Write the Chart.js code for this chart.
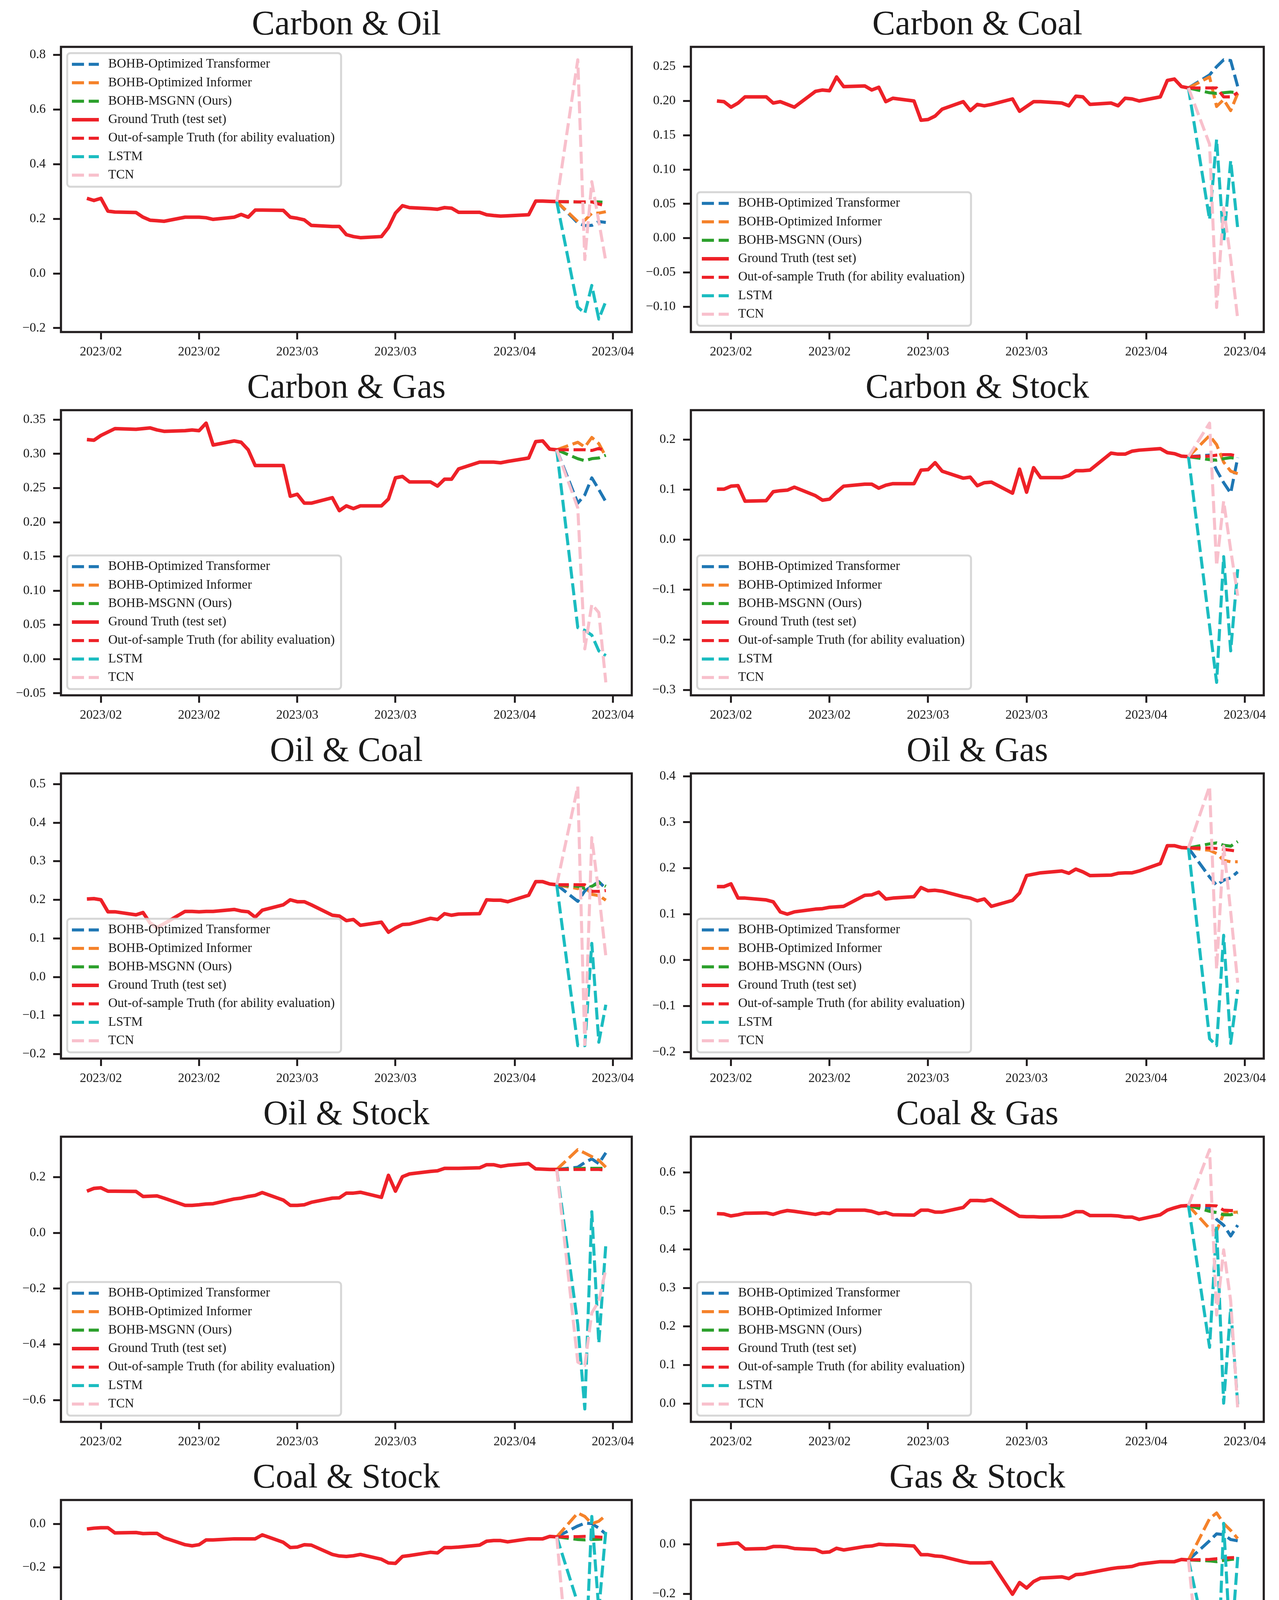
<!DOCTYPE html>
<html>
<head>
<meta charset="utf-8">
<title>Pairwise forecasts</title>
<script src="https://cdn.jsdelivr.net/npm/chart.js@4.4.0/dist/chart.umd.min.js"></script>
<style>
  body { margin: 0; background: #fff; }
  #page { position: relative; width: 3273px; height: 4660px; background: #fff; }
  #page canvas { position: absolute; }
</style>
</head>
<body>
<div id="page"></div>
<script>
// x values are days counted from 2023-02-01 (trading days only)
const truthDays = [-2, -1, 0, 1, 2, 5, 6, 7, 8, 9, 12, 13, 14, 15, 16, 19, 20, 21, 22, 23,
  26, 27, 28, 29, 30, 33, 34, 35, 36, 37, 40, 41, 42, 43, 44, 47, 48, 49, 50, 51,
  54, 55, 56, 57, 58, 61, 62, 63, 64, 65];
const forecastDays = [65, 68, 69, 70, 71, 72];
const xTickDays = [0, 14, 28, 42, 59, 73];
const xTickLabels = ['2023/02', '2023/02', '2023/03', '2023/03', '2023/04', '2023/04'];

const panelTitles = ['Carbon & Oil', 'Carbon & Coal', 'Carbon & Gas', 'Carbon & Stock', 'Oil & Coal',
  'Oil & Gas', 'Oil & Stock', 'Coal & Gas', 'Coal & Stock', 'Gas & Stock'];
const seriesLabels = ['BOHB-Optimized Transformer', 'BOHB-Optimized Informer', 'BOHB-MSGNN (Ours)',
  'Ground Truth (test set)', 'Out-of-sample Truth (for ability evaluation)', 'LSTM', 'TCN'];

// ground truth (test set), one row per panel
const testTruth = [
  [0.275, 0.267, 0.275, 0.228, 0.225, 0.223, 0.206, 0.195, 0.193, 0.191, 0.206, 0.206, 0.206, 0.204, 0.198, 0.206, 0.216, 0.206, 0.232, 0.232,
   0.231, 0.206, 0.202, 0.196, 0.176, 0.172, 0.172, 0.142, 0.135, 0.131, 0.135, 0.168, 0.221, 0.248, 0.241, 0.237, 0.235, 0.241, 0.239, 0.224,
   0.224, 0.215, 0.212, 0.210, 0.211, 0.215, 0.265, 0.265, 0.264, 0.263],
  [0.200, 0.199, 0.191, 0.197, 0.206, 0.206, 0.197, 0.199, 0.195, 0.191, 0.214, 0.216, 0.215, 0.235, 0.221, 0.222, 0.216, 0.220, 0.199, 0.204,
   0.200, 0.172, 0.173, 0.178, 0.188, 0.199, 0.186, 0.195, 0.193, 0.195, 0.203, 0.185, 0.192, 0.199, 0.199, 0.197, 0.193, 0.207, 0.206, 0.195,
   0.197, 0.193, 0.204, 0.203, 0.200, 0.206, 0.230, 0.232, 0.221, 0.219],
  [0.321, 0.320, 0.327, 0.332, 0.337, 0.336, 0.337, 0.338, 0.335, 0.333, 0.334, 0.335, 0.334, 0.345, 0.313, 0.319, 0.317, 0.306, 0.283, 0.283,
   0.283, 0.238, 0.241, 0.228, 0.228, 0.236, 0.217, 0.224, 0.220, 0.224, 0.224, 0.234, 0.265, 0.267, 0.259, 0.259, 0.253, 0.263, 0.263, 0.278,
   0.288, 0.288, 0.288, 0.287, 0.289, 0.294, 0.318, 0.319, 0.307, 0.306],
  [0.101, 0.101, 0.107, 0.108, 0.077, 0.078, 0.096, 0.098, 0.099, 0.105, 0.088, 0.079, 0.081, 0.095, 0.107, 0.111, 0.111, 0.103, 0.109, 0.112,
   0.112, 0.139, 0.140, 0.154, 0.137, 0.123, 0.125, 0.108, 0.114, 0.115, 0.093, 0.141, 0.095, 0.144, 0.124, 0.124, 0.128, 0.138, 0.138, 0.139,
   0.173, 0.171, 0.171, 0.177, 0.179, 0.182, 0.174, 0.172, 0.167, 0.166],
  [0.202, 0.203, 0.200, 0.169, 0.169, 0.161, 0.167, 0.140, 0.128, 0.138, 0.170, 0.170, 0.169, 0.170, 0.170, 0.175, 0.171, 0.169, 0.155, 0.173,
   0.187, 0.200, 0.195, 0.195, 0.187, 0.160, 0.158, 0.146, 0.149, 0.134, 0.142, 0.116, 0.127, 0.136, 0.137, 0.152, 0.149, 0.164, 0.160, 0.163,
   0.164, 0.200, 0.199, 0.199, 0.195, 0.212, 0.247, 0.247, 0.241, 0.239],
  [0.160, 0.160, 0.166, 0.135, 0.135, 0.131, 0.127, 0.105, 0.100, 0.105, 0.111, 0.112, 0.115, 0.116, 0.117, 0.141, 0.142, 0.148, 0.133, 0.135,
   0.138, 0.158, 0.151, 0.152, 0.150, 0.138, 0.135, 0.129, 0.133, 0.117, 0.130, 0.146, 0.184, 0.187, 0.190, 0.194, 0.189, 0.198, 0.192, 0.184,
   0.185, 0.189, 0.190, 0.190, 0.194, 0.210, 0.249, 0.249, 0.245, 0.244],
  [0.150, 0.160, 0.162, 0.150, 0.150, 0.149, 0.131, 0.132, 0.133, 0.125, 0.099, 0.099, 0.101, 0.104, 0.105, 0.122, 0.125, 0.131, 0.135, 0.145,
   0.118, 0.099, 0.099, 0.101, 0.110, 0.125, 0.126, 0.143, 0.143, 0.146, 0.128, 0.207, 0.150, 0.202, 0.212, 0.221, 0.223, 0.232, 0.232, 0.232,
   0.234, 0.245, 0.245, 0.239, 0.243, 0.249, 0.230, 0.229, 0.228, 0.228],
  [0.493, 0.492, 0.487, 0.490, 0.494, 0.495, 0.491, 0.497, 0.501, 0.499, 0.491, 0.495, 0.493, 0.502, 0.502, 0.502, 0.499, 0.493, 0.496, 0.490,
   0.489, 0.502, 0.502, 0.497, 0.497, 0.509, 0.527, 0.527, 0.526, 0.530, 0.497, 0.486, 0.485, 0.485, 0.484, 0.485, 0.490, 0.498, 0.498, 0.488,
   0.488, 0.487, 0.484, 0.484, 0.478, 0.490, 0.502, 0.508, 0.513, 0.514],
  [-0.023, -0.019, -0.017, -0.017, -0.041, -0.039, -0.044, -0.043, -0.043, -0.063, -0.095, -0.100, -0.095, -0.073, -0.073, -0.068, -0.068, -0.068, -0.068, -0.050,
   -0.084, -0.108, -0.106, -0.095, -0.097, -0.140, -0.147, -0.149, -0.146, -0.140, -0.162, -0.179, -0.181, -0.149, -0.145, -0.130, -0.133, -0.108, -0.108, -0.106,
   -0.097, -0.079, -0.076, -0.076, -0.082, -0.068, -0.068, -0.068, -0.057, -0.059],
  [-0.002, 0.000, 0.003, 0.005, -0.019, -0.017, -0.009, -0.009, -0.011, -0.017, -0.021, -0.033, -0.031, -0.016, -0.023, -0.009, -0.007, 0.000, -0.002, -0.002,
   -0.007, -0.042, -0.042, -0.047, -0.049, -0.070, -0.075, -0.075, -0.075, -0.073, -0.201, -0.154, -0.176, -0.150, -0.136, -0.131, -0.138, -0.122, -0.120, -0.114,
   -0.098, -0.094, -0.092, -0.089, -0.080, -0.070, -0.070, -0.070, -0.061, -0.063]
];

// forecast window, one row per panel (first value = last test point)
const transformerPred = [
  [0.263, 0.185, 0.175, 0.176, 0.190, 0.187],
  [0.219, 0.238, 0.250, 0.260, 0.259, 0.221],
  [0.306, 0.228, 0.240, 0.265, 0.248, 0.230],
  [0.166, 0.169, 0.139, 0.114, 0.093, 0.164],
  [0.239, 0.196, 0.223, 0.235, 0.247, 0.229],
  [0.244, 0.181, 0.163, 0.174, 0.179, 0.192],
  [0.228, 0.236, 0.253, 0.266, 0.249, 0.288],
  [0.514, 0.508, 0.478, 0.463, 0.435, 0.463],
  [-0.059, -0.009, 0.004, 0.002, -0.019, -0.046],
  [-0.063, 0.014, 0.042, 0.039, 0.019, 0.014]
];
const informerPred = [
  [0.263, 0.190, 0.195, 0.220, 0.221, 0.226],
  [0.219, 0.235, 0.192, 0.202, 0.186, 0.211],
  [0.306, 0.317, 0.310, 0.324, 0.315, 0.296],
  [0.166, 0.208, 0.190, 0.155, 0.137, 0.132],
  [0.239, 0.229, 0.235, 0.214, 0.211, 0.199],
  [0.244, 0.239, 0.232, 0.217, 0.214, 0.214],
  [0.228, 0.299, 0.287, 0.274, 0.261, 0.236],
  [0.514, 0.454, 0.448, 0.493, 0.496, 0.497],
  [-0.059, 0.051, 0.035, 0.002, 0.013, 0.040],
  [-0.063, 0.103, 0.126, 0.084, 0.056, 0.023]
];
const msgnnPred = [
  [0.263, 0.262, 0.261, 0.262, 0.262, 0.260],
  [0.219, 0.212, 0.211, 0.212, 0.213, 0.212],
  [0.306, 0.293, 0.290, 0.293, 0.294, 0.298],
  [0.166, 0.160, 0.159, 0.162, 0.164, 0.162],
  [0.239, 0.235, 0.229, 0.235, 0.244, 0.235],
  [0.244, 0.253, 0.255, 0.250, 0.248, 0.258],
  [0.228, 0.231, 0.232, 0.232, 0.232, 0.232],
  [0.514, 0.499, 0.496, 0.490, 0.490, 0.495],
  [-0.059, -0.071, -0.073, -0.071, -0.070, -0.068],
  [-0.063, -0.067, -0.070, -0.065, -0.061, -0.058]
];
const outTruth = [
  [0.263, 0.262, 0.262, 0.262, 0.254, 0.248],
  [0.219, 0.219, 0.219, 0.206, 0.206, 0.212],
  [0.306, 0.306, 0.306, 0.305, 0.308, 0.304],
  [0.166, 0.167, 0.169, 0.170, 0.170, 0.167],
  [0.239, 0.239, 0.239, 0.222, 0.222, 0.224],
  [0.244, 0.244, 0.243, 0.241, 0.239, 0.237],
  [0.228, 0.228, 0.228, 0.228, 0.228, 0.226],
  [0.514, 0.514, 0.513, 0.502, 0.501, 0.501],
  [-0.059, -0.058, -0.057, -0.058, -0.060, -0.062],
  [-0.063, -0.061, -0.058, -0.056, -0.054, -0.053]
];
const lstmPred = [
  [0.263, -0.123, -0.146, -0.044, -0.167, -0.102],
  [0.219, 0.027, 0.144, -0.006, 0.113, 0.014],
  [0.306, 0.046, 0.042, 0.035, 0.012, 0.005],
  [0.166, -0.172, -0.285, -0.034, -0.222, -0.059],
  [0.239, -0.178, -0.178, 0.087, -0.169, -0.072],
  [0.244, -0.171, -0.186, 0.054, -0.181, -0.064],
  [0.228, -0.329, -0.632, 0.076, -0.396, -0.042],
  [0.514, 0.146, 0.460, 0.001, 0.248, -0.002],
  [-0.059, -0.365, -0.716, 0.035, -0.397, -0.030],
  [-0.063, -0.450, -0.664, 0.084, -0.440, -0.051]
];
const tcnPred = [
  [0.263, 0.782, 0.051, 0.336, 0.190, 0.044],
  [0.219, 0.137, -0.101, 0.044, -0.030, -0.118],
  [0.306, 0.221, 0.015, 0.080, 0.068, -0.034],
  [0.166, 0.233, -0.052, 0.077, -0.020, -0.112],
  [0.239, 0.494, -0.175, 0.361, 0.217, 0.054],
  [0.244, 0.378, -0.020, 0.248, 0.105, -0.049],
  [0.228, -0.464, -0.476, -0.287, -0.245, -0.131],
  [0.514, 0.659, 0.230, 0.399, 0.267, -0.014],
  [-0.059, -1.142, -0.797, -0.872, -0.656, -0.440],
  [-0.063, -0.917, -0.674, -0.781, -0.618, -0.458]
];

// y tick values and decimals per panel
const yTickValues = [
  [-0.2, 0, 0.2, 0.4, 0.6, 0.8],
  [-0.10, -0.05, 0, 0.05, 0.10, 0.15, 0.20, 0.25],
  [-0.05, 0, 0.05, 0.10, 0.15, 0.20, 0.25, 0.30, 0.35],
  [-0.3, -0.2, -0.1, 0, 0.1, 0.2],
  [-0.2, -0.1, 0, 0.1, 0.2, 0.3, 0.4, 0.5],
  [-0.2, -0.1, 0, 0.1, 0.2, 0.3, 0.4],
  [-0.6, -0.4, -0.2, 0, 0.2],
  [0, 0.1, 0.2, 0.3, 0.4, 0.5, 0.6],
  [-1.2, -1.0, -0.8, -0.6, -0.4, -0.2, 0],
  [-0.8, -0.6, -0.4, -0.2, 0]
];
const yTickDecimals = [1, 2, 2, 1, 1, 1, 1, 1, 1, 1];
const legendAtTop = [true, false, false, false, false, false, false, false, false, false];

// line styles, same order as seriesLabels
const seriesColors = ['#1f77b4', '#f5822a', '#2ca02c', '#ee2128', '#ee2128', '#1bbcc0', '#f8c0cc'];
const seriesDashed = [true, true, true, false, true, true, true];

const INK = '#231f20';
const FONT = "'Liberation Serif', 'Times New Roman', serif";
Chart.defaults.font.family = FONT;
Chart.defaults.color = '#1a1a1a';

function toPoints(days, vals) {
  return vals.map((v, i) => ({ x: days[i], y: v }));
}

function fmtTick(v, dec) {
  if (Math.abs(v) < 1e-9) v = 0;
  return v.toFixed(dec).replace('-', '\u2212');
}

// axes frame on all four sides
const axesFrame = {
  id: 'axesFrame',
  afterDatasetsDraw(chart) {
    const a = chart.chartArea, ctx = chart.ctx;
    ctx.save();
    ctx.lineWidth = 5.5;
    ctx.strokeStyle = INK;
    ctx.strokeRect(a.left, a.top, a.right - a.left, a.bottom - a.top);
    ctx.restore();
  }
};

// matplotlib-like legend box drawn inside the axes
const boxLegend = {
  id: 'boxLegend',
  afterDraw(chart, args, opts) {
    const ctx = chart.ctx, a = chart.chartArea;
    const sets = chart.data.datasets;
    ctx.save();
    ctx.font = '33px ' + FONT;
    let textW = 0;
    sets.forEach(d => { textW = Math.max(textW, ctx.measureText(d.label).width); });
    const w = 105 + textW + 16;
    const h = 342;
    const x = a.left + 16;
    const y = opts.top ? a.top + 16 : a.bottom - 16 - h;
    ctx.beginPath();
    ctx.roundRect(x, y, w, h, 8);
    ctx.fillStyle = 'rgba(255,255,255,0.8)';
    ctx.fill();
    ctx.lineWidth = 5;
    ctx.strokeStyle = 'rgba(204,204,204,0.8)';
    ctx.stroke();
    sets.forEach((d, i) => {
      const cy = y + 28.6 + i * 47.3;
      ctx.beginPath();
      ctx.setLineDash(d.borderDash || []);
      ctx.lineCap = 'butt';
      ctx.lineWidth = d.borderWidth;
      ctx.strokeStyle = d.borderColor;
      ctx.moveTo(x + 12, cy);
      ctx.lineTo(x + 81, cy);
      ctx.stroke();
      ctx.setLineDash([]);
      ctx.fillStyle = '#1a1a1a';
      ctx.textBaseline = 'middle';
      ctx.textAlign = 'left';
      ctx.fillText(d.label, x + 105, cy);
    });
    ctx.restore();
  }
};

function buildPanel(p) {
  const row = Math.floor(p / 2), col = p % 2;
  const canvas = document.createElement('canvas');
  const cw = col ? 1637 : 1636;
  canvas.width = cw;
  canvas.height = 930;
  canvas.style.left = (col ? 1636 : 0) + 'px';
  canvas.style.top = (row * 930) + 'px';
  document.getElementById('page').appendChild(canvas);

  const seriesVals = [transformerPred[p], informerPred[p], msgnnPred[p], testTruth[p], outTruth[p], lstmPred[p], tcnPred[p]];
  const all = [].concat(...seriesVals);
  const vmin = Math.min(...all), vmax = Math.max(...all);
  const lo = vmin - 0.05 * (vmax - vmin), hi = vmax + 0.05 * (vmax - vmin);

  const datasets = seriesLabels.map((label, i) => ({
    label: label,
    data: toPoints(i === 3 ? truthDays : forecastDays, seriesVals[i]),
    borderColor: seriesColors[i],
    borderWidth: seriesDashed[i] ? 7.8 : 9,
    borderDash: seriesDashed[i] ? [31, 12] : [],
    borderCapStyle: 'butt',
    borderJoinStyle: 'round',
    pointRadius: 0,
    tension: 0,
    fill: false,
    order: 7 - i
  }));

  new Chart(canvas.getContext('2d'), {
    type: 'line',
    data: { datasets: datasets },
    plugins: [axesFrame, boxLegend],
    options: {
      responsive: false,
      animation: false,
      devicePixelRatio: 1,
      layout: { padding: { left: 0, right: col ? 39 : 16, top: 0, bottom: 0 } },
      elements: { point: { radius: 0 }, line: { tension: 0 } },
      plugins: {
        legend: { display: false },
        tooltip: { enabled: false },
        title: {
          display: true,
          text: panelTitles[p],
          fullSize: false,
          color: '#1a1a1a',
          font: { size: 88, weight: 'normal', lineHeight: 1 },
          padding: { top: 21, bottom: 11 }
        },
        boxLegend: { top: legendAtTop[p] }
      },
      scales: {
        x: {
          type: 'linear',
          min: -5.7,
          max: 75.7,
          afterBuildTicks: s => { s.ticks = xTickDays.map(v => ({ value: v })); },
          afterFit: s => { s.height = 80; },
          border: { display: false },
          grid: { drawOnChartArea: false, drawTicks: true, tickLength: 19, tickWidth: 5, tickColor: INK },
          ticks: {
            autoSkip: false, maxRotation: 0, minRotation: 0, padding: 13,
            font: { size: 33 }, color: '#1a1a1a',
            callback: v => xTickLabels[xTickDays.indexOf(v)]
          }
        },
        y: {
          type: 'linear',
          min: lo,
          max: hi,
          afterBuildTicks: s => {
            s.ticks = yTickValues[p].filter(v => v >= lo && v <= hi).map(v => ({ value: v }));
          },
          afterFit: s => { s.width = col ? 132 : 156; },
          border: { display: false },
          grid: { drawOnChartArea: false, drawTicks: true, tickLength: 20, tickWidth: 5, tickColor: INK },
          ticks: {
            padding: 19, font: { size: 33 }, color: '#1a1a1a',
            callback: v => fmtTick(v, yTickDecimals[p])
          }
        }
      }
    }
  });
}

for (let p = 0; p < panelTitles.length; p++) buildPanel(p);
</script>
</body>
</html>
